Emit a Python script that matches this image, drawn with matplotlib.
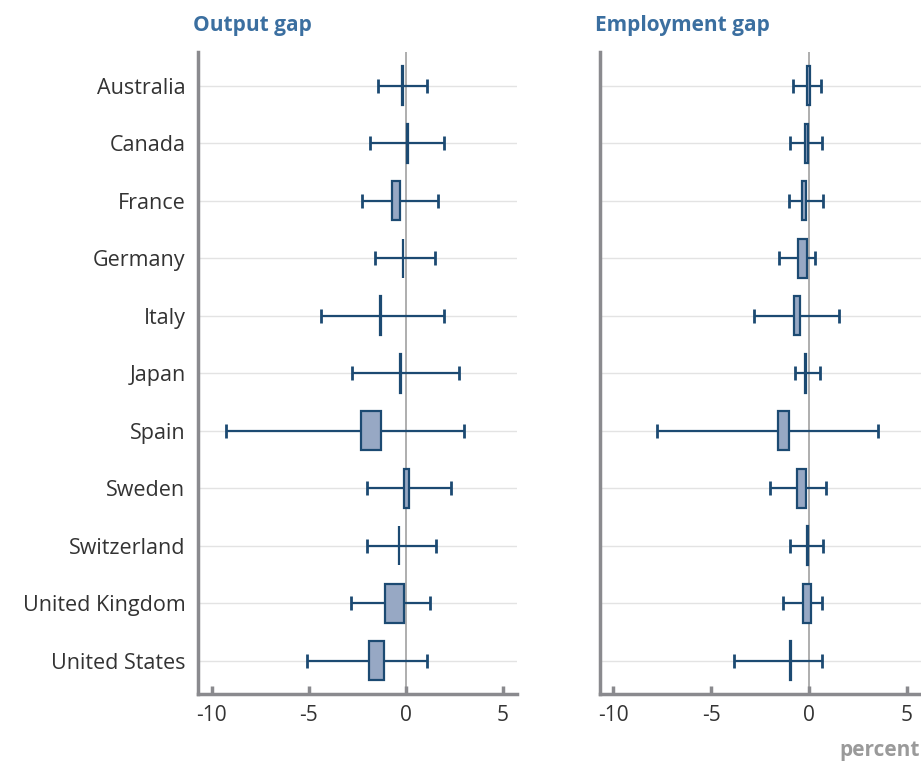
import matplotlib.pyplot as plt

countries = ["Australia", "Canada", "France", "Germany", "Italy", "Japan",
             "Spain", "Sweden", "Switzerland", "United Kingdom", "United States"]

# output gap: interquartile box and min/max whiskers (percent)
out_box_lo = [-0.20, 0.05, -0.72, -0.16, -1.33, -0.30, -2.31, -0.10, -0.36, -1.08, -1.90]
out_box_hi = [-0.15, 0.12, -0.29, -0.13, -1.28, -0.26, -1.28, 0.17, -0.32, -0.09, -1.11]
out_min = [-1.41, -1.85, -2.24, -1.59, -4.34, -2.79, -9.28, -1.98, -1.97, -2.80, -5.10]
out_max = [1.10, 2.00, 1.66, 1.50, 1.96, 2.73, 2.99, 2.33, 1.57, 1.26, 1.08]

# employment gap
emp_box_lo = [-0.08, -0.23, -0.37, -0.56, -0.77, -0.19, -1.60, -0.60, -0.12, -0.30, -0.95]
emp_box_hi = [0.05, -0.03, -0.15, -0.12, -0.48, -0.15, -1.02, -0.15, -0.05, 0.12, -0.91]
emp_min = [-0.80, -0.95, -1.04, -1.55, -2.79, -0.74, -7.79, -1.97, -0.98, -1.31, -3.84]
emp_max = [0.61, 0.68, 0.73, 0.33, 1.55, 0.55, 3.50, 0.85, 0.70, 0.66, 0.68]

xticks = [-10, -5, 0, 5]

dark = "#1c4a72"
face = "#97a8c4"
spine = "#8a8a8e"
title_col = "#3b6fa0"

plt.rcParams['font.family'] = ['Open Sans', 'DejaVu Sans']

fig = plt.figure(figsize=(9.21, 7.63), dpi=100)
ax1 = fig.add_axes([0.215, 0.0904, 0.346, 0.8414])
ax2 = fig.add_axes([0.651, 0.0904, 0.349, 0.8414])


def panel(ax, lo, hi, mn, mx, title, show_labels):
    y = list(range(len(countries)))
    for yy in y:
        ax.axhline(yy, color="#e3e3e3", lw=1, zorder=0)
    ax.axvline(0, color="#a8a8a8", lw=1.3, zorder=1)
    ax.errorbar([(a + b) / 2 for a, b in zip(lo, hi)], y,
                xerr=[[(a + b) / 2 - m for a, b, m in zip(lo, hi, mn)],
                      [m - (a + b) / 2 for a, b, m in zip(lo, hi, mx)]],
                fmt="none", ecolor=dark, elinewidth=1.6, capsize=5, capthick=2, zorder=2)
    ax.barh(y, [b - a for a, b in zip(lo, hi)], left=lo, height=0.68,
            color=face, edgecolor=dark, linewidth=1.6, zorder=3)
    ax.set_ylim(10.58, -0.59)
    ax.set_xlim(-10.7, 5.72)
    ax.set_xticks(xticks)
    ax.set_xticklabels([str(t) for t in xticks], fontsize=15, color="#333333")
    ax.set_yticks(y)
    if show_labels:
        ax.set_yticklabels(countries, fontsize=15.5, color="#333333")
    else:
        ax.set_yticklabels([])
    ax.tick_params(axis="y", length=0, pad=9)
    ax.tick_params(axis="x", direction="in", length=6, width=2.5, color=spine, pad=8)
    for s in ["top", "right"]:
        ax.spines[s].set_visible(False)
    for s in ["left", "bottom"]:
        ax.spines[s].set_color(spine)
        ax.spines[s].set_linewidth(2.5)
    ax.text(-0.015, 1.025, title, transform=ax.transAxes, fontsize=15,
            fontweight="bold", color=title_col, ha="left", va="bottom")


panel(ax1, out_box_lo, out_box_hi, out_min, out_max, "Output gap", True)
panel(ax2, emp_box_lo, emp_box_hi, emp_min, emp_max, "Employment gap", False)

fig.text(0.999, 0.002, "percent", ha="right", va="bottom", fontsize=15,
         fontweight="bold", color="#9a9a9a")

fig.savefig("out.png", dpi=100)
